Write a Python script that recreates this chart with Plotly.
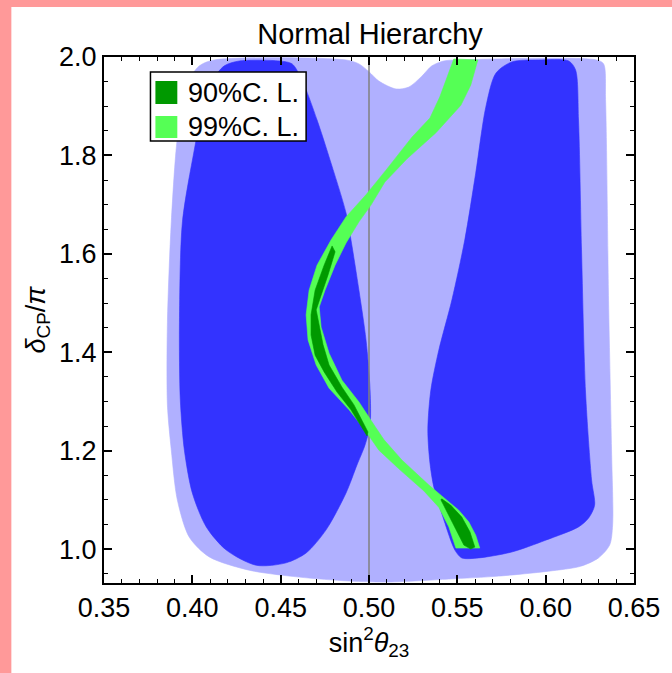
import plotly.graph_objects as go

# ---------------- data ----------------
x_range = [0.35, 0.65]
y_range = [0.931, 2.0]
x_ticks = [0.35, 0.40, 0.45, 0.50, 0.55, 0.60, 0.65]
x_tick_labels = ["0.35", "0.40", "0.45", "0.50", "0.55", "0.60", "0.65"]
y_ticks = [1.0, 1.2, 1.4, 1.6, 1.8, 2.0]
y_tick_labels = ["1.0", "1.2", "1.4", "1.6", "1.8", "2.0"]
maximal_mixing = 0.5

# light-blue allowed region (outer contour)
light_blue_x = [0.3859, 0.3881, 0.3915, 0.3966, 0.4040, 0.4124, 0.4870, 0.4943, 0.5000, 0.5056,
                0.5153, 0.5226, 0.5299, 0.5356, 0.5424, 0.5508, 0.6288, 0.6328, 0.6339, 0.6356,
                0.6373, 0.6379, 0.6362, 0.6299, 0.6198, 0.6017, 0.5734, 0.5452, 0.5113, 0.4887,
                0.4605, 0.4322, 0.4096, 0.3983, 0.3915, 0.3881, 0.3859]
light_blue_y = [1.461, 1.665, 1.835, 1.943, 1.982, 1.994, 1.994, 1.986, 1.970, 1.951,
                1.935, 1.939, 1.961, 1.982, 1.992, 1.994, 1.994, 1.986, 1.913, 1.506,
                1.201, 1.049, 1.008, 0.982, 0.965, 0.955, 0.945, 0.939, 0.933, 0.935,
                0.943, 0.957, 0.984, 1.024, 1.100, 1.201, 1.293]

# dark-blue region, left lobe
dark_blue_left_x = [0.3927, 0.3944, 0.4011, 0.4056, 0.4107, 0.4181, 0.4266, 0.4492, 0.4565, 0.4621,
                    0.4706, 0.4774, 0.4870, 0.4898, 0.4943, 0.4983, 0.5006, 0.5006, 0.4977, 0.4932,
                    0.4870, 0.4757, 0.4644, 0.4531, 0.4362, 0.4192, 0.4079, 0.4000, 0.3955, 0.3932]
dark_blue_left_y = [1.461, 1.665, 1.811, 1.892, 1.949, 1.982, 1.992, 1.992, 1.986, 1.953,
                    1.872, 1.797, 1.683, 1.628, 1.526, 1.425, 1.323, 1.252, 1.211, 1.171,
                    1.114, 1.039, 0.992, 0.972, 0.967, 0.998, 1.045, 1.114, 1.201, 1.303]

# dark-blue region, right lobe
dark_blue_right_x = [0.6203, 0.6226, 0.6260, 0.6277, 0.6243, 0.6186, 0.6000, 0.5808, 0.5621, 0.5525,
                     0.5486, 0.5424, 0.5367, 0.5345, 0.5333, 0.5350, 0.5395, 0.5469, 0.5542, 0.5604,
                     0.5661, 0.5718, 0.5808, 0.5960, 0.6130, 0.6169, 0.6186]
dark_blue_right_y = [1.608, 1.317, 1.140, 1.089, 1.063, 1.045, 1.018, 0.994, 0.982, 0.982,
                     0.998, 1.059, 1.126, 1.175, 1.242, 1.323, 1.404, 1.506, 1.628, 1.764,
                     1.898, 1.967, 1.990, 1.994, 1.992, 1.974, 1.872]

# 99% C.L. band (light green)
cl99_x = [0.5480, 0.5435, 0.5401, 0.5345, 0.5243, 0.5096, 0.4983, 0.4870, 0.4785, 0.4706,
          0.4661, 0.4644, 0.4655, 0.4701, 0.4774, 0.4887, 0.4977, 0.5056, 0.5169, 0.5311,
          0.5395, 0.5452, 0.5492, 0.5627, 0.5604, 0.5565, 0.5508, 0.5412, 0.5339, 0.5186,
          0.5085, 0.5040, 0.4943, 0.4847, 0.4774, 0.4729, 0.4718, 0.4751, 0.4808, 0.4870,
          0.4943, 0.5011, 0.5090, 0.5215, 0.5379, 0.5520, 0.5576, 0.5616]
cl99_y = [1.996, 1.953, 1.919, 1.876, 1.837, 1.770, 1.720, 1.675, 1.628, 1.577,
          1.526, 1.476, 1.425, 1.374, 1.327, 1.283, 1.242, 1.201, 1.163, 1.118,
          1.085, 1.045, 1.002, 1.002, 1.028, 1.055, 1.079, 1.108, 1.130, 1.181,
          1.222, 1.246, 1.299, 1.343, 1.398, 1.451, 1.492, 1.526, 1.577, 1.622,
          1.665, 1.699, 1.746, 1.793, 1.846, 1.902, 1.943, 1.994]

# 90% C.L. (dark green), middle strip
cl90_mid_x = [0.4791, 0.4746, 0.4695, 0.4672, 0.4672, 0.4695, 0.4746, 0.4819, 0.4898, 0.4989,
              0.4994, 0.4915, 0.4847, 0.4774, 0.4740, 0.4712, 0.4701, 0.4729, 0.4768, 0.4808]
cl90_mid_y = [1.616, 1.577, 1.526, 1.476, 1.435, 1.394, 1.360, 1.319, 1.283, 1.230,
              1.238, 1.293, 1.329, 1.374, 1.415, 1.461, 1.486, 1.516, 1.557, 1.604]

# 90% C.L. (dark green), lower lens
cl90_low_x = [0.5407, 0.5452, 0.5492, 0.5537, 0.5576, 0.5599, 0.5571, 0.5525, 0.5463, 0.5412]
cl90_low_y = [1.100, 1.069, 1.039, 1.008, 1.000, 1.004, 1.035, 1.065, 1.089, 1.102]

legend_labels = ["90%C. L.", "99%C. L."]

# ---------------- styles ----------------
LIGHT_BLUE = "#B0B0FF"
DARK_BLUE = "#3333FF"
LIGHT_GREEN = "#55FF55"
DARK_GREEN = "#009900"
FONT = "Liberation Sans, Arial, sans-serif"


def region(xs, ys, color, smooth=False):
    line = dict(color=color, width=0.6)
    if smooth:
        line.update(shape="spline", smoothing=0.8)
    return go.Scatter(x=xs + xs[:1], y=ys + ys[:1], mode="lines", fill="toself",
                      fillcolor=color, line=line, hoverinfo="skip", showlegend=False)


fig = go.Figure()
fig.add_trace(region(light_blue_x, light_blue_y, LIGHT_BLUE, smooth=True))
fig.add_trace(region(dark_blue_left_x, dark_blue_left_y, DARK_BLUE, smooth=True))
fig.add_trace(region(dark_blue_right_x, dark_blue_right_y, DARK_BLUE, smooth=True))
fig.add_trace(go.Scatter(x=[maximal_mixing, maximal_mixing], y=y_range, mode="lines",
                         line=dict(color="#808080", width=1.5), hoverinfo="skip",
                         showlegend=False))
fig.add_trace(region(cl99_x, cl99_y, LIGHT_GREEN))
fig.add_trace(region(cl90_mid_x, cl90_mid_y, DARK_GREEN))
fig.add_trace(region(cl90_low_x, cl90_low_y, DARK_GREEN))

W, H = 672, 673
L, R, T, B = 104, 36, 57, 90
pw, ph = W - L - R, H - T - B

shapes = [
    # white page on pink background
    dict(type="rect", xref="paper", yref="paper", layer="below",
         x0=(11 - L) / pw, x1=(W + 5 - L) / pw, y0=-(H + 5 - (T + ph)) / ph, y1=(T + ph - 7) / ph,
         fillcolor="white", line=dict(width=0)),
    # legend box
    dict(type="rect", xref="x", yref="y", x0=0.3763, x1=0.4644, y0=1.8293, y1=1.9695,
         fillcolor="white", line=dict(color="black", width=1.5), layer="above"),
    dict(type="rect", xref="x", yref="y", x0=0.3791, x1=0.3915, y0=1.9045, y1=1.9512,
         fillcolor=DARK_GREEN, line=dict(width=0), layer="above"),
    dict(type="rect", xref="x", yref="y", x0=0.3791, x1=0.3915, y0=1.8354, y1=1.8801,
         fillcolor=LIGHT_GREEN, line=dict(width=0), layer="above"),
]
annotations = [
    dict(x=0.3962, y=1.9278, xref="x", yref="y", text=legend_labels[0], showarrow=False,
         xanchor="left", yanchor="middle", font=dict(size=27, color="black", family=FONT)),
    dict(x=0.3962, y=1.8577, xref="x", yref="y", text=legend_labels[1], showarrow=False,
         xanchor="left", yanchor="middle", font=dict(size=27, color="black", family=FONT)),
]

axis_common = dict(showline=True, linecolor="black", linewidth=2, mirror="ticks",
                   ticks="inside", tickcolor="black", ticklen=8, tickwidth=1.5,
                   showgrid=False, zeroline=False,
                   tickfont=dict(size=27, color="black", family=FONT))

fig.update_layout(
    width=W, height=H,
    margin=dict(l=L, r=R, t=T, b=B),
    paper_bgcolor="#FF9999", plot_bgcolor="white",
    showlegend=False,
    font=dict(family=FONT, color="black"),
    title=dict(text="Normal Hierarchy", x=370 / W, xanchor="center",
               y=1 - 34 / H, yanchor="middle", yref="container",
               font=dict(size=29, color="black", family=FONT)),
    xaxis=dict(range=x_range, tickvals=x_ticks, ticktext=x_tick_labels,
               minor=dict(dtick=0.01, tick0=0.35, ticks="inside", ticklen=4,
                          tickcolor="black", tickwidth=1.2),
               title=dict(text="sin<sup>2</sup><i>θ</i><sub>23</sub>", standoff=6,
                          font=dict(size=27, color="black", family=FONT)),
               **axis_common),
    yaxis=dict(range=y_range, tickvals=y_ticks, ticktext=y_tick_labels,
               minor=dict(dtick=0.05, tick0=1.0, ticks="inside", ticklen=4,
                          tickcolor="black", tickwidth=1.2),
               title=dict(text="<i>δ</i><sub>CP</sub>/<i>π</i>", standoff=6,
                          font=dict(size=27, color="black", family=FONT)),
               **axis_common),
    shapes=shapes,
    annotations=annotations,
)

fig.write_html("out.html")
